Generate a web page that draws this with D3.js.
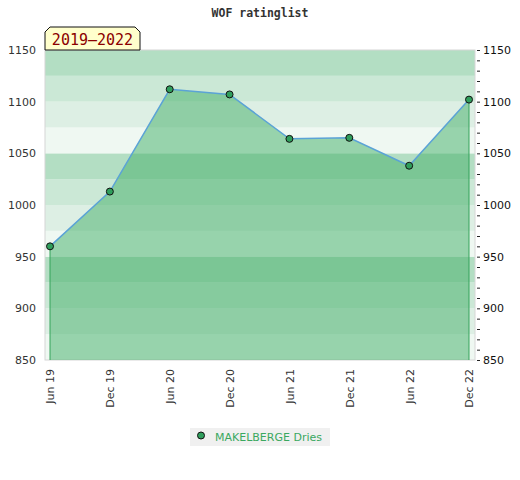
<!DOCTYPE html>
<html>
<head>
<meta charset="utf-8">
<script src="https://cdn.jsdelivr.net/npm/d3@7"></script>
<style>
  body { margin: 0; background: #fff; }
  text { font-family: "DejaVu Sans", sans-serif; }
</style>
</head>
<body>
<svg id="chart" width="520" height="480"></svg>
<script>
// values
var periods = ["Jun 19", "Dec 19", "Jun 20", "Dec 20", "Jun 21", "Dec 21", "Jun 22", "Dec 22"];
var ratings = [960, 1013, 1112, 1107, 1064, 1065, 1038, 1102];
var yTicks = [850, 900, 950, 1000, 1050, 1100, 1150];
var player = "MAKELBERGE Dries";
var rangeLabel = "2019\u20132022";

var svg = d3.select("#chart");
var margin = {top: 50, right: 45, bottom: 120, left: 45},
    width = 520 - margin.left - margin.right,
    height = 480 - margin.top - margin.bottom;

var y = d3.scaleLinear().domain([850, 1150]).range([height, 0]);
var x = d3.scalePoint().domain(periods).range([5, width - 6]);
var fmt = d3.format("d");

var g = svg.append("g")
    .attr("transform", "translate(" + margin.left + "," + margin.top + ")");

// background bands, 25 points each, four shades per 100
var bandColors = ["#b3dec3", "#cbe8d6", "#ddefe4", "#eff8f2"];
var bands = d3.range(850, 1150, 25);
g.selectAll("rect.band").data(bands).enter().append("rect")
    .attr("class", "band")
    .attr("x", 0)
    .attr("width", width)
    .attr("y", function (d) { return y(d + 25); })
    .attr("height", function (d) { return y(d) - y(d + 25); })
    .attr("fill", function (d) { return bandColors[((1150 - (d + 25)) / 25) % 4]; });

g.append("rect")
    .attr("width", width).attr("height", height)
    .attr("fill", "none").attr("stroke", "#d6d6d6");

var pts = periods.map(function (p, i) { return {p: p, v: ratings[i]}; });

var area = d3.area()
    .x(function (d) { return x(d.p); })
    .y0(height)
    .y1(function (d) { return y(d.v); });

g.append("path").datum(pts)
    .attr("d", area)
    .attr("fill", "#47b06b")
    .attr("fill-opacity", 0.52);

// vertical edges of the area
[pts[0], pts[pts.length - 1]].forEach(function (d) {
    g.append("line")
        .attr("x1", x(d.p)).attr("x2", x(d.p))
        .attr("y1", y(d.v)).attr("y2", height)
        .attr("stroke", "#35a35a").attr("stroke-width", 1);
});

g.append("path").datum(pts)
    .attr("d", d3.line().x(function (d) { return x(d.p); }).y(function (d) { return y(d.v); }))
    .attr("fill", "none")
    .attr("stroke", "#5ba3d6")
    .attr("stroke-width", 1.5);

g.selectAll("circle.pt").data(pts).enter().append("circle")
    .attr("class", "pt")
    .attr("cx", function (d) { return x(d.p); })
    .attr("cy", function (d) { return y(d.v); })
    .attr("r", 3.5)
    .attr("fill", "#2f9e5c")
    .attr("stroke", "#111")
    .attr("stroke-width", 1);

// left axis
var left = g.append("g").call(d3.axisLeft(y).tickValues(yTicks).tickFormat(fmt).tickSize(0).tickPadding(9));
left.select(".domain").remove();
left.selectAll("text").attr("fill", "#333").style("font-size", "11px");

// right axis with minor ticks
var right = g.append("g").attr("transform", "translate(" + width + ",0)")
    .call(d3.axisRight(y).ticks(30).tickSize(0).tickFormat(""));
right.select(".domain").remove();
right.selectAll(".tick line").attr("x1", 2).attr("x2", 5).attr("stroke", "#222");
var rightLabels = g.append("g").attr("transform", "translate(" + width + ",0)")
    .call(d3.axisRight(y).tickValues(yTicks).tickFormat(fmt).tickSize(0).tickPadding(8));
rightLabels.select(".domain").remove();
rightLabels.selectAll("text").attr("fill", "#111").style("font-size", "11px");

// x axis labels, rotated
var bottom = g.append("g").attr("transform", "translate(0," + height + ")")
    .call(d3.axisBottom(x).tickSize(0));
bottom.select(".domain").remove();
bottom.selectAll("text")
    .attr("fill", "#333")
    .style("font-size", "11px")
    .style("text-anchor", "end")
    .attr("transform", "rotate(-90)")
    .attr("x", -9)
    .attr("y", 0)
    .attr("dy", "0.35em");

// title
svg.append("text")
    .attr("x", 260).attr("y", 17)
    .attr("text-anchor", "middle")
    .style("font-family", "'DejaVu Sans Mono', monospace")
    .style("font-size", "11.5px")
    .style("font-weight", "bold")
    .attr("fill", "#333")
    .text("WOF ratinglist");

// period tag
var tx = margin.left, ty = 27, tw = 95, th = 23, c = 5;
svg.append("path")
    .attr("d", "M" + tx + "," + (ty + th) + "V" + (ty + c) + "L" + (tx + c) + "," + ty +
        "H" + (tx + tw - c) + "L" + (tx + tw) + "," + (ty + c) + "V" + (ty + th) + "Z")
    .attr("fill", "#ffffcc").attr("stroke", "#111").attr("stroke-width", 1);
svg.append("text")
    .attr("x", tx + tw / 2).attr("y", ty + 18)
    .attr("text-anchor", "middle")
    .style("font-family", "'DejaVu Sans Mono', monospace")
    .style("font-size", "15px")
    .attr("fill", "#8b0000")
    .text(rangeLabel);

// legend
var lg = svg.append("g").attr("transform", "translate(190,428)");
lg.append("rect").attr("width", 140).attr("height", 18).attr("fill", "#f0f0f0");
lg.append("circle").attr("cx", 11).attr("cy", 7.5).attr("r", 3.5)
    .attr("fill", "#2f9e5c").attr("stroke", "#111");
lg.append("text").attr("x", 25).attr("y", 12.5)
    .style("font-size", "11px").attr("fill", "#3aa85f")
    .text(player);
</script>
</body>
</html>
